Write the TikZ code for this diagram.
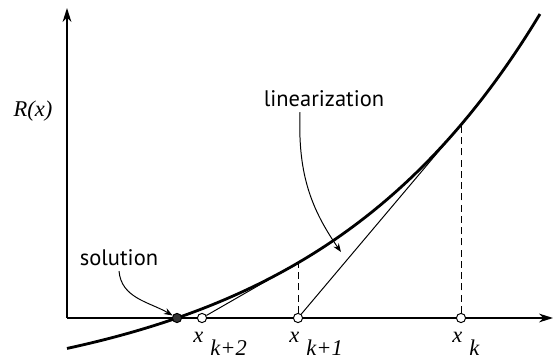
\documentclass[tikz,border=0pt]{standalone}
\usepackage{fontspec}
\setmainfont{Liberation Serif}
\setsansfont{PT Sans}
\usepackage{tikz}
\usetikzlibrary{
	arrows.meta,
	positioning,
	calc
}

\newcommand{\iterlab}[1]{x\hspace{5pt}\raisebox{-9pt}{#1}}

\begin{document}
\begin{tikzpicture}[
		>=Stealth,
		axis/.style={
			line width=0.9pt,
			-{Stealth[length=3.5mm,width=2.2mm]}
		},
		resid/.style={
			line width=2pt
		},
		tangent/.style={
			line width=0.7pt
		},
		drop/.style={
			line width=0.7pt,
			dash pattern=on 5pt off 3pt
		},
		iterate/.style={
			circle,
			draw,
			fill=white,
			line width=0.7pt,
			minimum size=2.3mm,
			inner sep=0pt
		},
		root/.style={
			iterate,
			fill=black!80
		},
		callout/.style={
			font=\sffamily\fontsize{16}{19}\selectfont
		},
		xlab/.style={
			font=\fontsize{16}{19}\selectfont\itshape,
			inner sep=0pt,
			anchor=base west
		}
		]
		
		\useasboundingbox (-1.675,-1) rectangle (12.2,7.95);
		
		% Axes
		\coordinate (origin) at (0,0);
		\coordinate (xend) at (12.15,0);
		\coordinate (yend) at (0,7.75);
		\draw[axis] (origin) -- (xend);
		\draw[axis] (origin) -- (yend);
		\node[xlab, anchor=center] (rlab) at (-0.85,5.175) {R(x)};
		
		% Residual curve
		\draw[resid] plot[domain=0:11.825, samples=60, smooth] (\x, {2.02*(exp(0.172*(\x-2.75))-1)});
		
		% Iterates
		\node[root] (sol) at (2.75,0) {};
		\node[iterate] (xk2) at (3.375,0) {};
		\node[iterate] (xk1) at (5.775,0) {};
		\node[iterate] (xk) at (9.85,0) {};
		\coordinate (fk1) at (5.775,1.379);
		\coordinate (fk) at (9.85,4.83);
		
		\draw[drop] (xk1) -- (fk1);
		\draw[drop] (xk) -- (fk);
		\draw[tangent] (fk) -- (xk1);
		\draw[tangent] (fk1) -- (xk2);
		
		\node[xlab] at ($(xk2)+(-0.22,-0.62)$) {\iterlab{k+2}};
		\node[xlab] at ($(xk1)+(-0.22,-0.62)$) {\iterlab{k+1}};
		\node[xlab] at ($(xk)+(-0.22,-0.62)$) {\iterlab{k}};
		
		% Labels
		\node[callout] (lin) at (6.425,5.475) {linearization};
		\coordinate (linend) at (6.85,1.65);
		\draw[->,line width=0.7pt] ([xshift=-0.6cm]lin.south) to[out=-92,in=125] (linend);
		
		\node[callout] (solu) at (1.3,1.5) {solution};
		\draw[->,line width=0.7pt] (solu.south) to[out=-85,in=150] (sol);
		
	\end{tikzpicture}
\end{document}
